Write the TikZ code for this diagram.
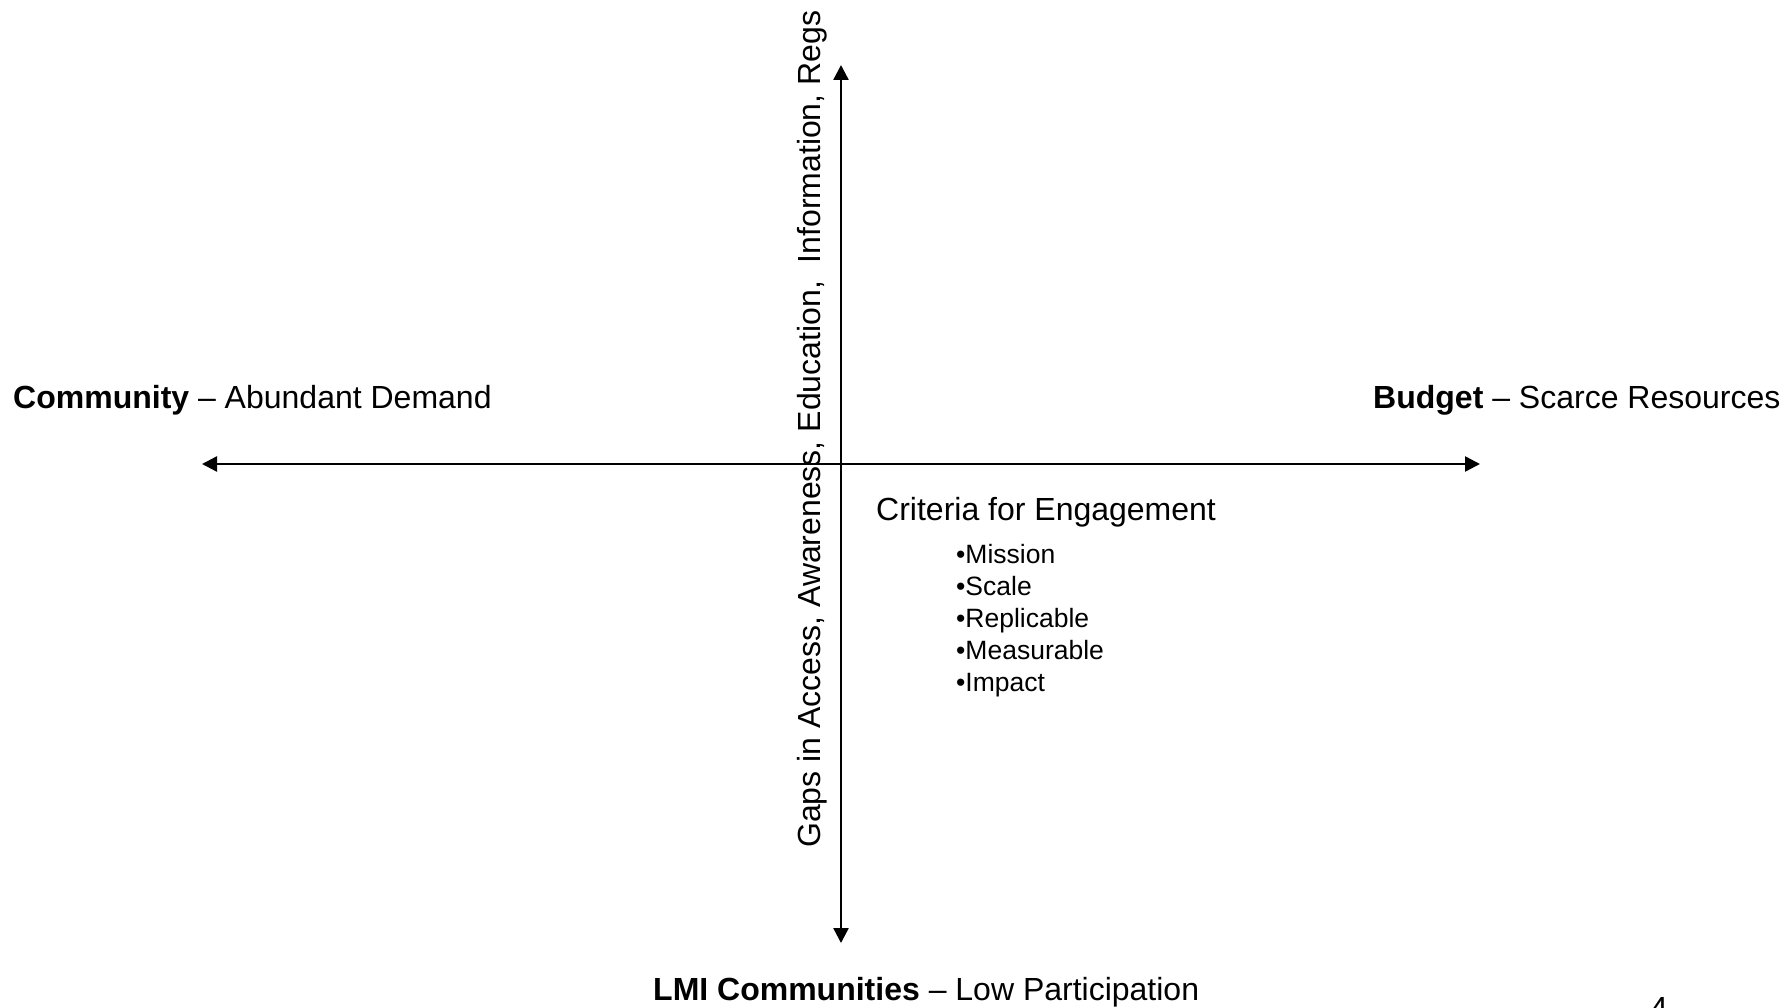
\documentclass[tikz,border=0pt]{standalone}
\usepackage{fontspec}
\setmainfont{Liberation Sans}
\usetikzlibrary{arrows.meta}
\begin{document}
\begin{tikzpicture}[x=1pt,y=-1pt,
  axis/.style={line width=2.4pt,{Triangle[length=15pt,width=15pt]}-{Triangle[length=15pt,width=15pt]}},
  lbl/.style={inner sep=0pt,anchor=base west,font=\fontsize{32}{38}\selectfont},
  item/.style={inner sep=0pt,anchor=base west,font=\fontsize{26.5}{32}\selectfont}]
\useasboundingbox (0,0) rectangle (1784,1008);

% axis end points
\coordinate (top) at (841,65);
\coordinate (bottom) at (841,943);
\coordinate (left) at (202,464);
\coordinate (right) at (1480,464);

\draw[axis] (left) -- (right);
\draw[axis] (top) -- (bottom);

% axis labels
\node[lbl] (community) at (13,408) {\textbf{Community} -- Abundant Demand};
\node[lbl] (budget) at (1373,408) {\textbf{Budget} -- Scarce Resources};
\node[lbl] (lmi) at (653,1000) {\textbf{LMI Communities} -- Low Participation};
\node[lbl,rotate=90] (gaps) at (820,848) {Gaps in Access, Awareness, Education,\ \ Information, Regs};

% criteria list
\node[lbl] (criteria) at (876,520) {Criteria for Engagement};
\node[item] (i1) at (956,563.5) {•Mission};
\node[item] (i2) at (956,595.5) {•Scale};
\node[item] (i3) at (956,627.5) {•Replicable};
\node[item] (i4) at (956,659.5) {•Measurable};
\node[item] (i5) at (956,691) {•Impact};

% page number, running off the lower edge
\node[lbl] (page) at (1650,1019) {4};
\end{tikzpicture}
\end{document}
